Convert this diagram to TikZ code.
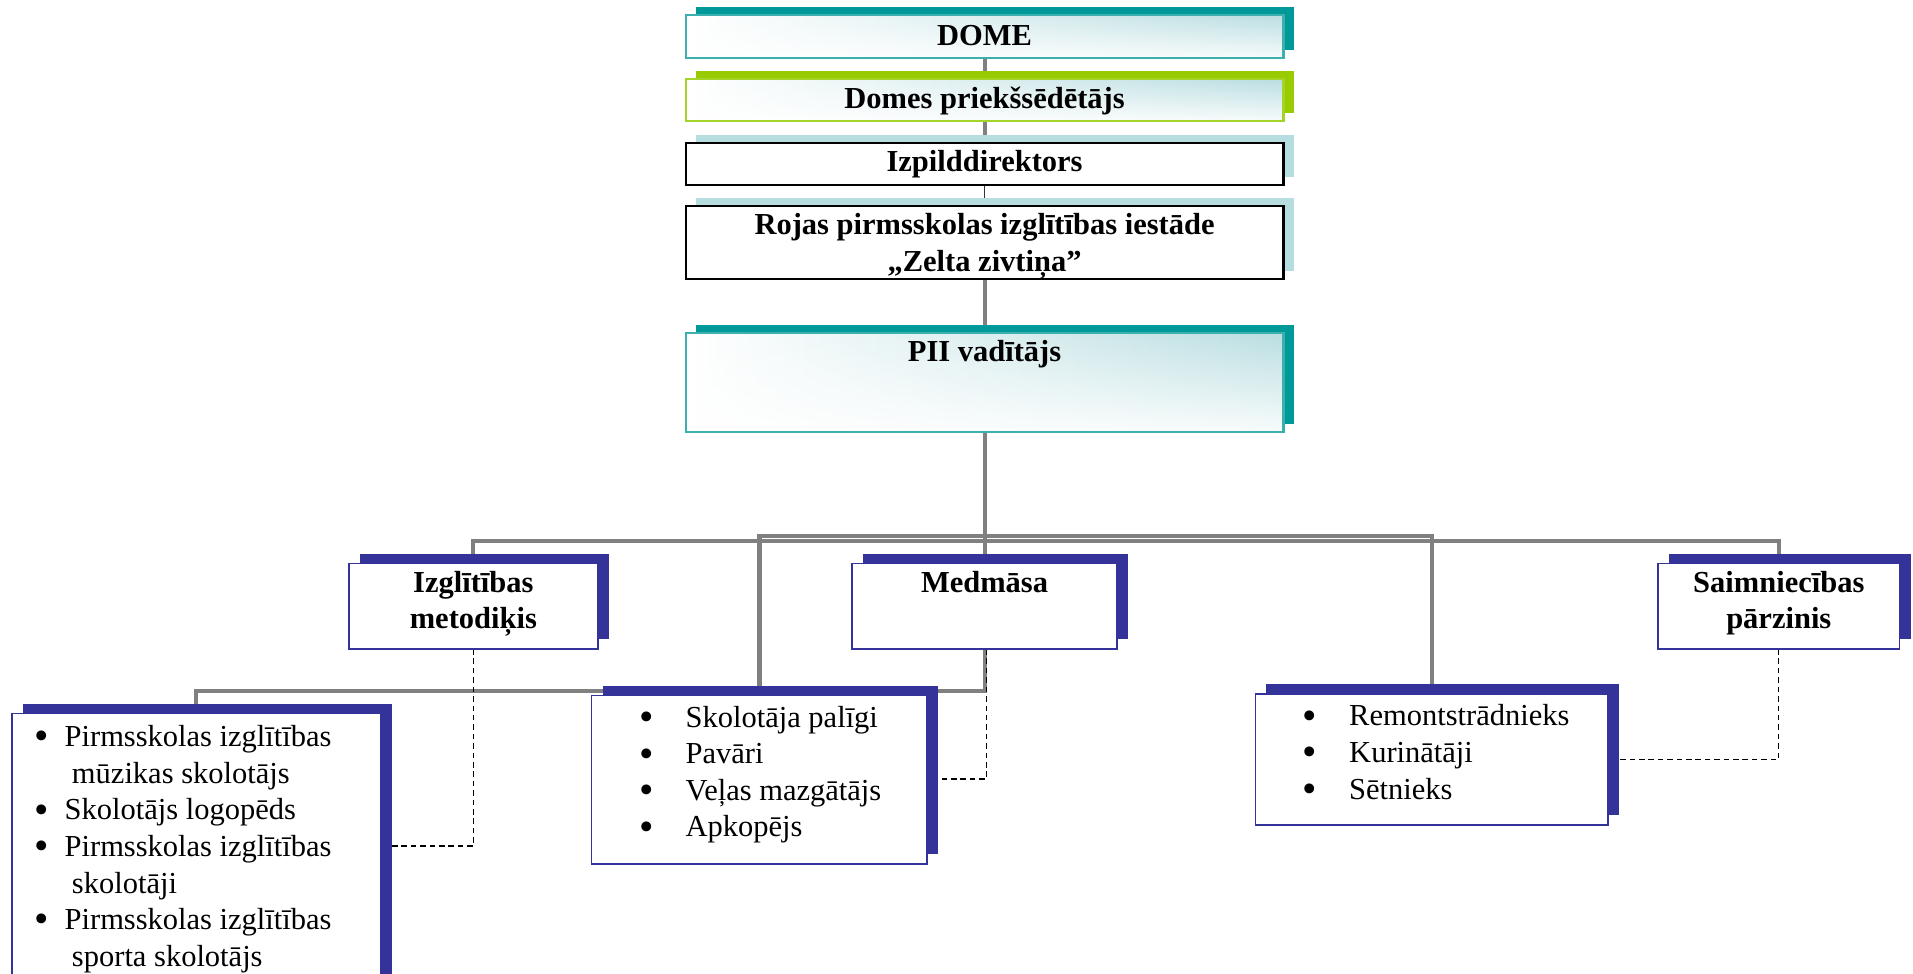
\documentclass[tikz,border=0pt]{standalone}
\usepackage{fontspec}
\setmainfont{Liberation Serif}
\usetikzlibrary{shadows,fadings}
\pgfdeclarelayer{background}
\pgfsetlayers{background,main}
\definecolor{tealback}{RGB}{0,153,153}
\definecolor{tealline}{RGB}{60,175,175}
\definecolor{greenback}{RGB}{153,204,0}
\definecolor{greenline}{RGB}{165,212,40}
\definecolor{paleteal}{RGB}{182,221,224}
\definecolor{gradteal}{RGB}{186,222,225}
\definecolor{navy}{RGB}{51,51,153}
\definecolor{conngray}{RGB}{128,128,128}
\tikzfading[name=fadebottom, top color=transparent!100, middle color=transparent!100, bottom color=transparent!0]
\newcommand{\bulletmark}{\makebox[0pt]{\raisebox{-1.3pt}{\scalebox{1.35}{•}}}}
\begin{document}
\begin{tikzpicture}[x=0.48pt, y=-0.48pt,
  every node/.style={inner sep=0pt, outer sep=0pt},
  hdr/.style={font=\bfseries\fontsize{12}{14.4}\selectfont, anchor=base},
  lst/.style={font=\fontsize{12}{14.4}\selectfont, anchor=base west},
  gradfill/.style={path picture={
     \fill[left color=white, right color=gradteal] (path picture bounding box.south west) rectangle (path picture bounding box.north east);
     \fill[white, path fading=fadebottom, opacity=0.9] (path picture bounding box.south west) rectangle (path picture bounding box.north east);}},
  topbox/.style={draw, line width=0.8pt, minimum width=235.2pt},
  topshadow/.style={general shadow={fill=#1, shadow xshift=4.08pt, shadow yshift=3.12pt}},
  bluebox/.style={draw=navy, line width=0.6pt, fill=white, general shadow={fill=navy, shadow xshift=4.32pt, shadow yshift=3.84pt}},
  gline/.style={draw=conngray, line width=1.6pt},
  thinline/.style={draw=black!80, line width=0.5pt},
  dline/.style={draw=black, line width=0.5pt, dash pattern=on 2.2pt off 1.5pt}
]
\useasboundingbox (0,0) rectangle (1568,798);
\clip (0,0) rectangle (1568,798);

% top chain boxes
\node[topbox, draw=tealline, gradfill, topshadow=tealback, minimum height=17.04pt] (dome) at (807,30) {};
\node[topbox, draw=greenline, gradfill, topshadow=greenback, minimum height=16.5pt] (domes) at (807,82) {};
\node[topbox, draw=black, fill=white, topshadow=paleteal, minimum height=16.6pt] (izpild) at (807,134.3) {};
\node[topbox, draw=black, fill=white, topshadow=paleteal, minimum height=28.8pt] (rojas) at (807,199) {};
\node[topbox, draw=tealline, gradfill, topshadow=tealback, minimum height=38.9pt] (pii) at (807,313.25) {};

% second level boxes
\node[bluebox, minimum width=97.9pt, minimum height=33.6pt] (metod) at (388,497) {};
\node[bluebox, minimum width=104.2pt, minimum height=33.6pt] (medmasa) at (807,497) {};
\node[bluebox, minimum width=95pt, minimum height=33.6pt] (saimn) at (1458,497) {};

% group boxes
\node[bluebox, minimum width=145pt, minimum height=117.6pt] (leftgrp) at (161,707.5) {};
\node[bluebox, minimum width=132pt, minimum height=66.2pt] (midgrp) at (622.5,639) {};
\node[bluebox, minimum width=138.7pt, minimum height=51.4pt] (rightgrp) at (1173.5,622.5) {};

% helper coordinates
\coordinate (busA) at (0,443.3);
\coordinate (busB) at (0,439.5);
\coordinate (busC) at (0,566);
\coordinate (dashA) at (0,693.4);
\coordinate (dashB) at (0,638.5);
\coordinate (dashC) at (0,622.4);

\begin{pgfonlayer}{background}
\draw[gline] (dome) -- (domes);
\draw[gline] (domes) -- (izpild);
\draw[thinline] (izpild) -- (rojas);
\draw[gline] (rojas) -- (pii);
\draw[gline] (pii.south) -- (medmasa.north);
\draw[gline] (medmasa.south) -- (medmasa.south |- busC) -| (leftgrp.north);
\draw[gline] (metod.north) -- (metod.north |- busA) -- (saimn.north |- busA) -- (saimn.north);
\draw[gline] (midgrp.north) -- (midgrp.north |- busB) -- (rightgrp.north |- busB) -- (rightgrp.north);
\draw[dline] (metod.south) |- (leftgrp.east |- dashA);
\draw[dline] ([xshift=0.8pt]medmasa.south) |- (midgrp.east |- dashB);
\draw[dline] (saimn.south) |- (rightgrp.east |- dashC);
\end{pgfonlayer}

% header texts
\node[hdr] (tdome) at (807,36.9) {DOME};
\node[hdr] (tdomes) at (807,88.8) {Domes priekšsēdētājs};
\node[hdr] (tizpild) at (807,140.7) {Izpilddirektors};
\node[hdr] (trojas) at (807,192.6) {\begin{tabular}[t]{@{}c@{}}Rojas pirmsskolas izglītības iestāde\\„Zelta zivtiņa”\end{tabular}};
\node[hdr] (tpii) at (807,296.4) {PII vadītājs};
\node[hdr] (tmetod) at (388,485.5) {\begin{tabular}[t]{@{}c@{}}Izglītības\\metodiķis\end{tabular}};
\node[hdr] (tmed) at (807,485.5) {Medmāsa};
\node[hdr] (tsaimn) at (1458,485.5) {\begin{tabular}[t]{@{}c@{}}Saimniecības\\pārzinis\end{tabular}};

% list texts
\node[lst] (tleft) at (34,612) {\begin{tabular}[t]{@{}l@{}l@{}}
\bulletmark\hspace{9.12pt} & Pirmsskolas izglītības\\
 & \hspace{2.88pt}mūzikas skolotājs\\
\bulletmark & Skolotājs logopēds\\
\bulletmark & Pirmsskolas izglītības\\
 & \hspace{2.88pt}skolotāji\\
\bulletmark & Pirmsskolas izglītības\\
 & \hspace{2.88pt}sporta skolotājs
\end{tabular}};
\node[lst] (tmid) at (530,596) {\begin{tabular}[t]{@{}l@{}l@{}}
\bulletmark\hspace{15.36pt} & Skolotāja palīgi\\
\bulletmark & Pavāri\\
\bulletmark & Veļas mazgātājs\\
\bulletmark & Apkopējs
\end{tabular}};
\node[lst] (tright) at (1073.4,595) {\begin{tabular}[t]{@{}l@{}l@{}}
\bulletmark\hspace{15.6pt} & Remontstrādnieks\\
\bulletmark & Kurinātāji\\
\bulletmark & Sētnieks
\end{tabular}};
\end{tikzpicture}
\end{document}
